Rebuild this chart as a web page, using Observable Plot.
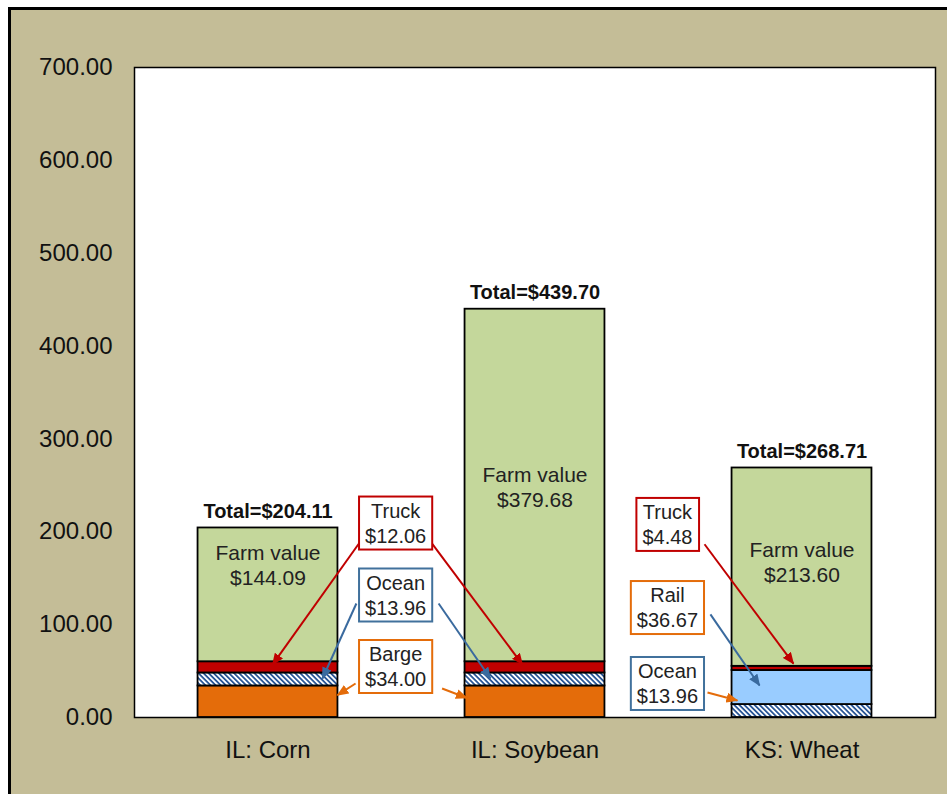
<!DOCTYPE html>
<html><head><meta charset="utf-8">
<script src="https://cdn.jsdelivr.net/npm/d3@7"></script>
<script src="https://cdn.jsdelivr.net/npm/@observablehq/plot@0.6"></script>
<style>
html,body{margin:0;padding:0;background:#fff;width:947px;height:794px;overflow:hidden;}
#panel{position:absolute;left:8px;top:7px;width:980px;height:840px;border:3px solid #000;background:#C4BD97;}
#chart{position:absolute;left:0;top:0;}
</style></head><body>
<div id="panel"></div><div id="chart"></div>
<script>
// ---- data ----
const categories = ["IL: Corn", "IL: Soybean", "KS: Wheat"];
const cornParts = ["Barge", "Ocean", "Truck", "Farm value"];
const cornValues = [34.00, 13.96, 12.06, 144.09];
const soyParts = ["Barge", "Ocean", "Truck", "Farm value"];
const soyValues = [34.00, 13.96, 12.06, 379.68];
const wheatParts = ["Ocean", "Rail", "Truck", "Farm value"];
const wheatValues = [13.96, 36.67, 4.48, 213.60];
const totals = [204.11, 439.70, 268.71];
const yTicks = [0, 100, 200, 300, 400, 500, 600, 700];

// ---- styling ----
const partColor = {"Farm value": "#C4D79B", "Truck": "#C00000", "Rail": "#99CCFF", "Barge": "#E46C0A", "Ocean": "url(#oceanHatch)"};
const RED = "#C00000", BLUE = "#41719C", ORANGE = "#E46C0A", ARROWBLUE = "#3A6A9E";
const halfBar = 0.262;

const stacks = [[cornParts, cornValues], [soyParts, soyValues], [wheatParts, wheatValues]];
const rows = stacks.flatMap(([parts, values], i) => {
  let acc = 0;
  return parts.map((p, j) => ({i, part: p, y1: acc, y2: (acc += values[j])}));
});
const farmValues = stacks.map(([parts, values]) => values[parts.indexOf("Farm value")]);
const farmLabelY = [165, 249, 168];

// callout annotations (data-space anchors)
const callouts = [
  {label: "Truck", value: cornValues[2], x: 0.478, y: 210.5, color: RED},
  {label: "Ocean", value: cornValues[1], x: 0.478, y: 133, color: BLUE},
  {label: "Barge", value: cornValues[0], x: 0.478, y: 56, color: ORANGE},
  {label: "Truck", value: wheatValues[2], x: 1.496, y: 209, color: RED},
  {label: "Rail", value: wheatValues[1], x: 1.496, y: 119.5, color: ORANGE},
  {label: "Ocean", value: wheatValues[0], x: 1.496, y: 37.7, color: BLUE}
];
const arrows = [
  {x1: 0.354, y1: 192.8, x2: 0.017, y2: 57, color: RED},
  {x1: 0.609, y1: 189.5, x2: 0.953, y2: 57, color: RED},
  {x1: 0.331, y1: 122.8, x2: 0.204, y2: 42, color: ARROWBLUE},
  {x1: 0.639, y1: 122.8, x2: 0.833, y2: 42, color: ARROWBLUE},
  {x1: 0.328, y1: 36.6, x2: 0.26, y2: 24, color: ORANGE},
  {x1: 0.652, y1: 31.2, x2: 0.745, y2: 21, color: ORANGE},
  {x1: 1.635, y1: 186.6, x2: 1.968, y2: 58, color: RED},
  {x1: 1.657, y1: 111, x2: 1.841, y2: 34.5, color: ARROWBLUE},
  {x1: 1.646, y1: 27, x2: 1.758, y2: 18.3, color: ORANGE}
];

const font = "'Liberation Sans', Arial, sans-serif";
const chart = Plot.plot({
  width: 947, height: 794,
  marginTop: 67, marginBottom: 77, marginLeft: 134, marginRight: 12,
  style: {fontFamily: font, background: "transparent", color: "#111"},
  x: {domain: [-0.5, 2.5]},
  y: {domain: [0, 700]},
  color: {type: "identity"},
  marks: [
    Plot.frame({fill: "white", stroke: "#000", strokeWidth: 1.5}),
    Plot.axisY({ticks: yTicks, tickFormat: d3.format(".2f"), tickSize: 0, tickPadding: 22, fontSize: 24, label: null}),
    Plot.axisX({ticks: [0, 1, 2], tickFormat: i => categories[i], tickSize: 0, tickPadding: 23, fontSize: 24, label: null}),
    Plot.rect(rows, {x1: d => d.i - halfBar, x2: d => d.i + halfBar, y1: "y1", y2: "y2", fill: d => partColor[d.part], stroke: "#000", strokeWidth: 1.8}),
    Plot.text(totals, {x: (d, i) => i, y: d => d, text: d => "Total=$" + d.toFixed(2), fontWeight: "bold", fontSize: 20, lineAnchor: "bottom", dy: -10, fill: "#111"}),
    Plot.text(categories, {x: (d, i) => i, y: (d, i) => farmLabelY[i], text: (d, i) => "Farm value\n$" + farmValues[i].toFixed(2), fontSize: 21, lineHeight: 1.2, fill: "#222"}),
    Plot.link(arrows, {x1: "x1", y1: "y1", x2: "x2", y2: "y2", stroke: "color", strokeWidth: 2}),
    Plot.text(callouts, {x: "x", y: "y", text: d => d.label + "\n$" + d.value.toFixed(2), fontSize: 20, lineHeight: 1.25, fill: "#222"})
  ]
});
document.getElementById("chart").appendChild(chart);

// ---- post-render decorations: hatch pattern, filled arrowheads, callout boxes ----
const svg = d3.select(chart);
const defs = svg.insert("defs", ":first-child");
const pat = defs.append("pattern").attr("id", "oceanHatch").attr("patternUnits", "userSpaceOnUse")
  .attr("width", 3.6).attr("height", 3.6).attr("patternTransform", "rotate(45)");
pat.append("rect").attr("width", 3.6).attr("height", 3.6).attr("fill", "#fff");
pat.append("rect").attr("width", 3.6).attr("height", 1.8).attr("fill", "#2B5797");

const markerIds = {};
[RED, ARROWBLUE, ORANGE].forEach((c, k) => {
  const id = "ah" + k;
  markerIds[c.toLowerCase()] = id;
  defs.append("marker").attr("id", id).attr("viewBox", "0 0 12 10").attr("refX", 11).attr("refY", 5)
    .attr("markerWidth", 12).attr("markerHeight", 10).attr("markerUnits", "userSpaceOnUse").attr("orient", "auto")
    .append("path").attr("d", "M0,0L12,5L0,10Z").attr("fill", c);
});
svg.selectAll('g[aria-label="link"] path').each(function() {
  const c = (this.getAttribute("stroke") || "").toLowerCase();
  if (markerIds[c]) this.setAttribute("marker-end", "url(#" + markerIds[c] + ")");
});

const textGroups = svg.selectAll('g[aria-label="text"]').nodes();
const calloutGroup = textGroups[textGroups.length - 1];
d3.select(calloutGroup).selectAll("text").each(function(d, k) {
  const b = this.getBBox();
  const r = document.createElementNS("http://www.w3.org/2000/svg", "rect");
  const padX = 6, padY = 3;
  r.setAttribute("x", b.x - padX);
  r.setAttribute("y", b.y - padY);
  r.setAttribute("width", b.width + 2 * padX);
  r.setAttribute("height", b.height + 2 * padY);
  r.setAttribute("fill", "#fff");
  r.setAttribute("stroke", callouts[k].color);
  r.setAttribute("stroke-width", 2);
  const t = this.getAttribute("transform");
  if (t) r.setAttribute("transform", t);
  this.parentNode.insertBefore(r, this);
});
</script>
</body></html>
